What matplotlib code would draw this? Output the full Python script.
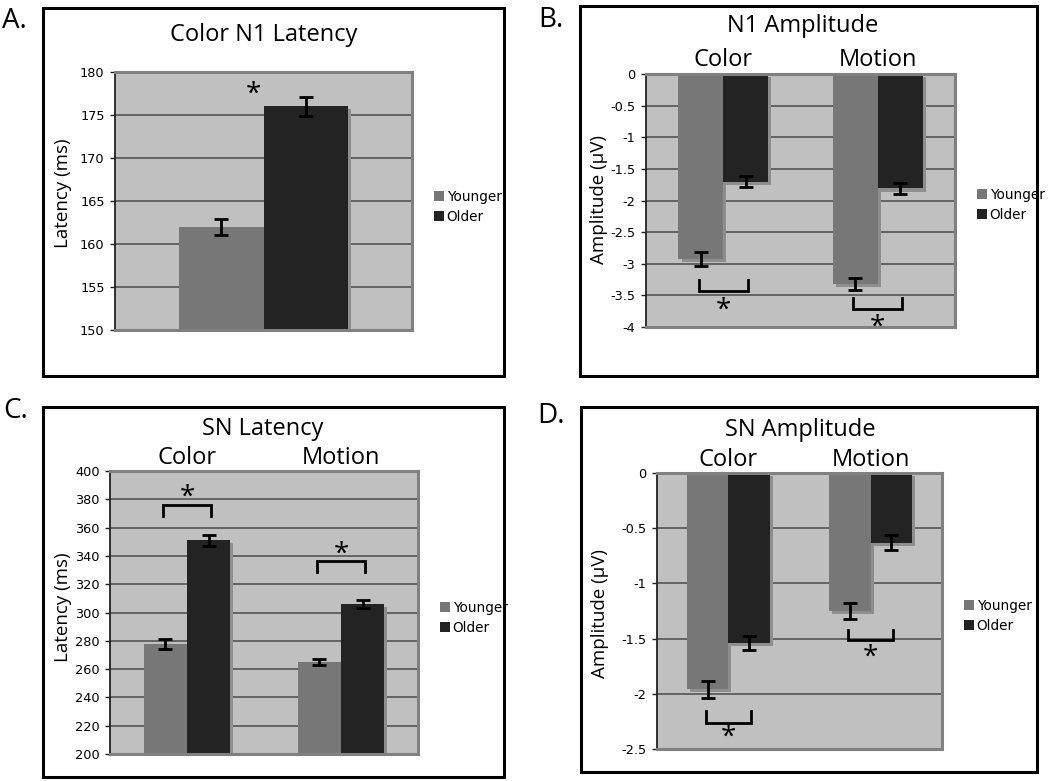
import matplotlib
matplotlib.use("Agg")
import matplotlib.pyplot as plt
import matplotlib.patheffects as pe
from matplotlib.patches import Rectangle, Patch
from matplotlib.ticker import FuncFormatter
from matplotlib.transforms import blended_transform_factory
import numpy as np

# ---------------- data ----------------
series = ["Younger", "Older"]

a_categories = ["Color"]
a_young = [162.0]
a_old = [176.0]
a_young_err = [0.9]
a_old_err = [1.1]
a_yticks = [150, 155, 160, 165, 170, 175, 180]
a_star_y = [177.3]

b_categories = ["Color", "Motion"]
b_young = [-2.92, -3.32]
b_old = [-1.70, -1.81]
b_young_err = [0.11, 0.10]
b_old_err = [0.08, 0.08]
b_yticks = [0, -0.5, -1, -1.5, -2, -2.5, -3, -3.5, -4]
b_bracket_tip = [-3.26, -3.54]
b_bracket_bar = [-3.43, -3.72]
b_star_y = [-3.75, -4.02]

c_categories = ["Color", "Motion"]
c_young = [278.0, 265.0]
c_old = [351.0, 306.0]
c_young_err = [3.6, 2.4]
c_old_err = [4.0, 2.7]
c_yticks = [200, 220, 240, 260, 280, 300, 320, 340, 360, 380, 400]
c_bracket_tip = [368.0, 328.6]
c_bracket_bar = [376.0, 336.4]
c_star_y = [381.0, 340.6]

d_categories = ["Color", "Motion"]
d_young = [-1.96, -1.25]
d_old = [-1.54, -0.63]
d_young_err = [0.075, 0.075]
d_old_err = [0.065, 0.07]
d_yticks = [0, -0.5, -1, -1.5, -2, -2.5]
d_bracket_tip = [-2.16, -1.42]
d_bracket_bar = [-2.26, -1.51]
d_star_y = [-2.40, -1.676]

# ---------------- style ----------------
W, H = 1050, 781
BG = "#c0c0c0"
YOUNG_C = "#777777"
OLD_C = "#232323"
SHADOW_C = "#8e8e8e"
GRID_C = "#4a4a4a"
TITLE_FONT = ["Open Sans", "DejaVu Sans"]
TICK_FONT = ["DejaVu Sans"]
STAR_SIZE = 20

fig = plt.figure(figsize=(W / 100, H / 100), dpi=100)
fig.patch.set_facecolor("white")


def fx(px):
    return px / W


def fy(py):
    return (H - py) / H


def box(x0, y0, x1, y1):
    fig.patches.append(Rectangle((fx(x0), fy(y1)), fx(x1) - fx(x0), fy(y0) - fy(y1),
                                 transform=fig.transFigure, fill=False,
                                 edgecolor="black", linewidth=2.2, zorder=0))


def make_axes(x0, y0, x1, y1):
    ax = fig.add_axes([fx(x0), fy(y1), fx(x1) - fx(x0), fy(y0) - fy(y1)])
    ax.set_facecolor(BG)
    ax.set_axisbelow(True)
    for s in ["top", "right", "bottom"]:
        ax.spines[s].set_color("#808080")
        ax.spines[s].set_linewidth(2.2)
    ax.spines["left"].set_color("#222222")
    ax.spines["left"].set_linewidth(1.3)
    ax.tick_params(axis="y", direction="out", length=3.5, width=1, color="#222222",
                   labelsize=9.3, pad=4)
    ax.tick_params(axis="x", length=0, labelbottom=False)
    ax.yaxis.grid(True, color=GRID_C, linewidth=1.1)
    ax.yaxis.set_major_formatter(FuncFormatter(lambda v, p: "{:g}".format(v)))
    return ax


shadow = [pe.SimplePatchShadow(offset=(2.2, -2.2), shadow_rgbFace=SHADOW_C, alpha=1.0),
          pe.Normal()]


def draw_bars(ax, cats, young, old, yerr_y, yerr_o, width, ylim, yticks):
    x = np.arange(len(cats))
    by = ax.bar(x - width / 2, young, width, color=YOUNG_C, zorder=2)
    bo = ax.bar(x + width / 2, old, width, color=OLD_C, zorder=2)
    for b in list(by) + list(bo):
        b.set_path_effects(shadow)
    ax.errorbar(x - width / 2, young, yerr=yerr_y, fmt="none", ecolor="black",
                elinewidth=2, capsize=5, capthick=2, zorder=4)
    ax.errorbar(x + width / 2, old, yerr=yerr_o, fmt="none", ecolor="black",
                elinewidth=2, capsize=5, capthick=2, zorder=4)
    ax.set_ylim(*ylim)
    ax.set_yticks(yticks)
    for lab in ax.get_yticklabels():
        lab.set_family(TICK_FONT)
    return x


def brackets(ax, x, width, tips, bars, stars):
    for xi, t, b, s in zip(x, tips, bars, stars):
        xl = xi - width * 0.55
        xr = xi + width * 0.55
        ax.plot([xl, xl, xr, xr], [t, b, b, t], color="black", lw=2, zorder=5,
                solid_joinstyle="miter", clip_on=False)
        ax.text(xi, s, "*", ha="center", va="center", fontsize=STAR_SIZE,
                family=TITLE_FONT, zorder=6, clip_on=False)


def legend(ax, px, py):
    handles = [Patch(facecolor=YOUNG_C, edgecolor="none"),
               Patch(facecolor=OLD_C, edgecolor="none")]
    ax.legend(handles, series, loc="upper left", bbox_to_anchor=(fx(px), fy(py)),
              bbox_transform=fig.transFigure, frameon=False, borderpad=0,
              handlelength=0.75, handleheight=0.75, handletextpad=0.2,
              labelspacing=0.45, prop={"family": TICK_FONT, "size": 9.8})


def cat_labels(ax, x, cats, py):
    tr = blended_transform_factory(ax.transData, fig.transFigure)
    for xi, c in zip(x, cats):
        ax.text(xi, fy(py), c, transform=tr, ha="center", va="baseline",
                fontsize=17, family=TITLE_FONT)


# ---------------- Panel A ----------------
box(43, 8, 504, 376)
axA = make_axes(115, 72, 412, 330)
xA = draw_bars(axA, a_categories, a_young, a_old, a_young_err, a_old_err,
               0.286, (150, 180), a_yticks)
axA.set_xlim(-0.5, 0.5)
axA.text(xA[0] - 0.035, a_star_y[0], "*", ha="center", va="center", fontsize=STAR_SIZE,
         family=TITLE_FONT, zorder=6)
fig.text(fx(264), fy(41), "Color N1 Latency", ha="center", va="baseline",
         fontsize=17, family=TITLE_FONT)
fig.text(fx(63), fy(193), "Latency (ms)", rotation=90, ha="center", va="center",
         fontsize=13.5, family=TITLE_FONT)
legend(axA, 427, 183)
fig.text(fx(2), fy(28), "A.", ha="left", va="baseline", fontsize=20, family=TITLE_FONT)

# ---------------- Panel B ----------------
box(580, 6, 1037, 376)
axB = make_axes(646, 74, 955, 327)
xB = draw_bars(axB, b_categories, b_young, b_old, b_young_err, b_old_err,
               0.29, (-4, 0), b_yticks)
axB.set_xlim(-0.5, 1.5)
brackets(axB, xB, 0.29, b_bracket_tip, b_bracket_bar, b_star_y)
fig.text(fx(803), fy(32), "N1 Amplitude", ha="center", va="baseline",
         fontsize=17, family=TITLE_FONT)
cat_labels(axB, xB, b_categories, 66.5)
fig.text(fx(599), fy(200), "Amplitude (μV)", rotation=90, ha="center", va="center",
         fontsize=13.5, family=TITLE_FONT)
legend(axB, 970, 181)
fig.text(fx(538), fy(27), "B.", ha="left", va="baseline", fontsize=20, family=TITLE_FONT)

# ---------------- Panel C ----------------
box(43, 407, 504, 777)
axC = make_axes(110, 471, 418, 754)
xC = draw_bars(axC, c_categories, c_young, c_old, c_young_err, c_old_err,
               0.28, (200, 400), c_yticks)
axC.set_xlim(-0.5, 1.5)
brackets(axC, xC, 0.28, c_bracket_tip, c_bracket_bar, c_star_y)
fig.text(fx(263), fy(435), "SN Latency", ha="center", va="baseline",
         fontsize=17, family=TITLE_FONT)
cat_labels(axC, xC, c_categories, 464)
fig.text(fx(63), fy(607), "Latency (ms)", rotation=90, ha="center", va="center",
         fontsize=13.5, family=TITLE_FONT)
legend(axC, 433, 594)
fig.text(fx(3), fy(418), "C.", ha="left", va="baseline", fontsize=20, family=TITLE_FONT)

# ---------------- Panel D ----------------
box(581, 407, 1037, 772)
axD = make_axes(657, 473, 942, 749)
xD = draw_bars(axD, d_categories, d_young, d_old, d_young_err, d_old_err,
               0.29, (-2.5, 0), d_yticks)
axD.set_xlim(-0.5, 1.5)
brackets(axD, xD, 0.29, d_bracket_tip, d_bracket_bar, d_star_y)
fig.text(fx(800), fy(436), "SN Amplitude", ha="center", va="baseline",
         fontsize=17, family=TITLE_FONT)
cat_labels(axD, xD, d_categories, 466)
fig.text(fx(600), fy(613), "Amplitude (μV)", rotation=90, ha="center", va="center",
         fontsize=13.5, family=TITLE_FONT)
legend(axD, 957, 592)
fig.text(fx(537), fy(423), "D.", ha="left", va="baseline", fontsize=20, family=TITLE_FONT)

fig.savefig("out.png", dpi=100, facecolor="white")
